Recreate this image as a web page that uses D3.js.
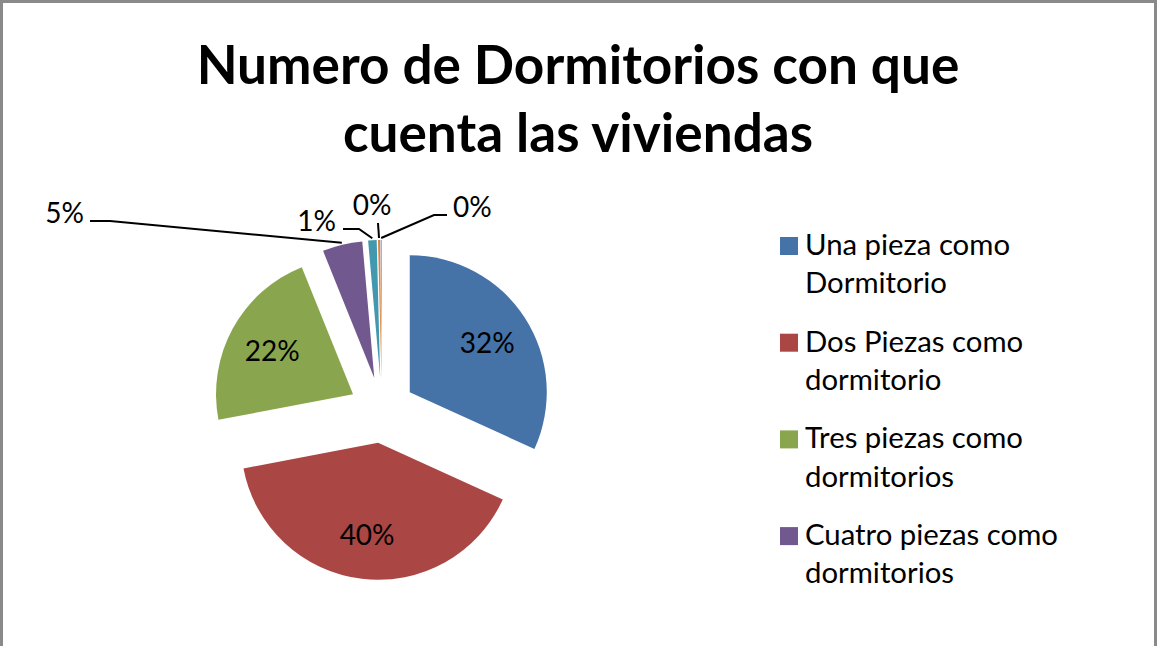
<!DOCTYPE html>
<html>
<head>
<meta charset="utf-8">
<script src="https://cdn.jsdelivr.net/npm/d3@7"></script>
<style>
  body { margin: 0; background: #fff; }
  svg { display: block; }
  text { font-family: Lato, "Open Sans", sans-serif; fill: #000; }
</style>
</head>
<body>
<svg width="1157" height="646"></svg>
<script>
const categories = [
  'Una pieza como Dormitorio',
  'Dos Piezas como dormitorio',
  'Tres piezas como dormitorios',
  'Cuatro piezas como dormitorios',
  'Cinco piezas como dormitorios',
  'Seis piezas como dormitorios',
  'Siete piezas como dormitorios'
];
const values = [31.8, 40.2, 21.9, 4.7, 1.0, 0.25, 0.15];
const colors = ['#4572A7', '#AA4643', '#89A54E', '#71588F', '#4198AF', '#DB843D', '#93A9CF'];
// legend in the original only has room for the first four entries
const legendLines = [
  ['Una pieza como', 'Dormitorio'],
  ['Dos Piezas como', 'dormitorio'],
  ['Tres piezas como', 'dormitorios'],
  ['Cuatro piezas como', 'dormitorios']
];
const titleLines = ['Numero de Dormitorios con que', 'cuenta las viviendas'];

(function(d3) {
  'use strict';

  const svg = d3.select('svg');
  const width = +svg.attr('width');

  // chart frame
  svg.append('rect')
      .attr('x', 1.5).attr('y', 1.5)
      .attr('width', width - 3).attr('height', 700)
      .attr('fill', 'none')
      .attr('stroke', '#8a8a8a')
      .attr('stroke-width', 3);

  // fit a font size so that a string takes a given width
  const fitSize = (str, target, weight) => {
      const t = svg.append('text').attr('font-size', 100).attr('font-weight', weight).text(str);
      const w = t.node().getComputedTextLength();
      t.remove();
      return 100 * target / w;
  };

  const titleSize = fitSize(titleLines[0], 763, 'bold');
  svg.selectAll('.title').data(titleLines).enter().append('text')
      .attr('class', 'title')
      .attr('x', 578)
      .attr('y', (d, i) => 84 + i * 68)
      .attr('text-anchor', 'middle')
      .attr('font-weight', 'bold')
      .attr('font-size', titleSize)
      .text(d => d);

  const cx = 382, cy = 410, radius = 137, explode = 33;
  const pct = d3.format('.0%');
  const total = d3.sum(values);
  const labelSize = fitSize('32%', 55, 'normal');

  const pie = d3.pie().sort(null).value(d => d);
  const arcs = pie(values);
  const arc = d3.arc().innerRadius(0).outerRadius(radius);

  const mid = d => (d.startAngle + d.endAngle) / 2;
  const apex = d => [cx + explode * Math.sin(mid(d)), cy - explode * Math.cos(mid(d))];
  const polar = (d, r) => {
      const [ax, ay] = apex(d);
      return [ax + r * Math.sin(mid(d)), ay - r * Math.cos(mid(d))];
  };

  const g = svg.append('g');
  g.selectAll('path').data(arcs).enter().append('path')
      .attr('transform', d => `translate(${apex(d)})`)
      .attr('d', arc)
      .attr('fill', (d, i) => colors[i]);

  // inside labels for the big slices
  g.selectAll('.inlabel').data(arcs.slice(0, 3)).enter().append('text')
      .attr('class', 'inlabel')
      .attr('x', d => polar(d, 92)[0])
      .attr('y', d => polar(d, 92)[1])
      .attr('text-anchor', 'middle')
      .attr('dominant-baseline', 'central')
      .attr('font-size', labelSize)
      .text(d => pct(d.value / total));

  // outside labels with leader lines
  const outside = [
      { i: 3, x: 84, y: 223, anchor: 'end', path: [[90, 221], [110, 221]] },
      { i: 4, x: 336, y: 231, anchor: 'end', path: [[343, 229], [359, 229]] },
      { i: 5, x: 372, y: 215, anchor: 'middle', path: [[378, 223]] },
      { i: 6, x: 453, y: 217, anchor: 'start', path: [[447, 215], [434, 215]] }
  ];
  const line = d3.line();
  outside.forEach(o => {
      const d = arcs[o.i];
      g.append('path')
          .attr('d', line(o.path.concat([polar(d, radius + 2)])))
          .attr('fill', 'none')
          .attr('stroke', '#000')
          .attr('stroke-width', 2);
      g.append('text')
          .attr('x', o.x)
          .attr('y', o.y)
          .attr('text-anchor', o.anchor)
          .attr('font-size', labelSize)
          .text(pct(d.value / total));
  });

  // legend
  const legendSize = fitSize(legendLines[3][0], 253, 'normal');
  const legend = svg.append('g');
  const item = legend.selectAll('.item').data(legendLines).enter().append('g')
      .attr('class', 'item')
      .attr('transform', (d, i) => `translate(780,${255 + i * 96.7})`);
  item.append('rect')
      .attr('x', 0).attr('y', -18)
      .attr('width', 18).attr('height', 18)
      .attr('fill', (d, i) => colors[i]);
  item.selectAll('text').data(d => d).enter().append('text')
      .attr('x', 25)
      .attr('y', (d, j) => j * 38.3)
      .attr('font-size', legendSize)
      .attr('fill', '#000')
      .text(d => d);

}(d3));
</script>
</body>
</html>
